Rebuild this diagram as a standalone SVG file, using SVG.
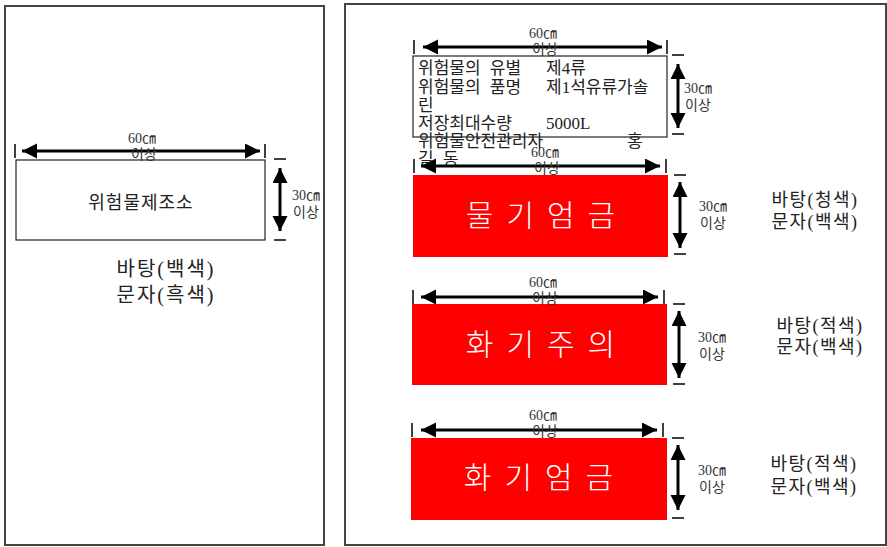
<svg xmlns="http://www.w3.org/2000/svg" width="887" height="547" viewBox="0 0 887 547">
<style>
.panel{fill:#fff;stroke:#444;stroke-width:2}
.dim{stroke:#000;stroke-width:3;fill:none;marker-start:url(#ah);marker-end:url(#ah)}
.tick{stroke:#000;stroke-width:1.5}
.t{font-family:"Liberation Serif","Noto Sans CJK KR",serif;fill:#222}
.s{font-size:14px;fill:#333}
.m{font-size:18px;letter-spacing:1px}
.l{font-size:17px;word-spacing:5px}
.w{font-size:30px;fill:#fff;letter-spacing:13px;font-weight:300}
.r{font-size:18px;letter-spacing:1.5px}
.red{fill:#ff0000}
.box{fill:#fff;stroke:#222;stroke-width:1.2}
</style>
<defs>
<marker id="ah" markerUnits="userSpaceOnUse" markerWidth="16" markerHeight="16" refX="15" refY="7.5" orient="auto-start-reverse" viewBox="0 0 16 16">
<path d="M0,0 L15,7.5 L0,15 z" fill="#000"/>
</marker>
</defs>
<rect class="panel" x="5" y="6" width="319" height="539"/>
<rect class="panel" x="345" y="4" width="541" height="541"/>

<g id="sign-left">
<rect class="box" x="16" y="160" width="249" height="80"/>
<text class="t m" x="141" y="209" text-anchor="middle">위험물제조소</text>
<text class="t" x="166" y="276" font-size="20" letter-spacing="2" text-anchor="middle">바탕(백색)</text>
<text class="t" x="166" y="302" font-size="20" letter-spacing="2" text-anchor="middle">문자(흑색)</text>
</g>

<g id="sign-info">
<rect class="box" x="413" y="56" width="254" height="81"/>
<text class="t l" x="418" y="74">위험물의 유별</text><text class="t l" x="546" y="74">제4류</text>
<text class="t l" x="418" y="93">위험물의 품명</text><text class="t l" x="546" y="93">제1석유류가솔</text>
<text class="t l" x="418" y="111">린</text>
<text class="t l" x="418" y="129">저장최대수량</text><text class="t l" x="546" y="129">5000L</text>
<text class="t l" x="418" y="147">위험물안전관리자</text><text class="t l" x="627" y="147">홍</text>
<text class="t l" x="418" y="165">길 동</text>
</g>

<g id="sign-water">
<rect class="red" x="413" y="175" width="255" height="82"/>
<text class="t w" x="547" y="226" text-anchor="middle">물기엄금</text>
<text class="t r" x="815" y="206" text-anchor="middle">바탕(청색)</text>
<text class="t r" x="815" y="228" text-anchor="middle">문자(백색)</text>
</g>

<g id="sign-fire-caution">
<rect class="red" x="412" y="304" width="255" height="81"/>
<text class="t w" x="547" y="355" text-anchor="middle">화기주의</text>
<text class="t r" x="820" y="332" text-anchor="middle">바탕(적색)</text>
<text class="t r" x="820" y="353" text-anchor="middle">문자(백색)</text>
</g>

<g id="sign-fire-ban">
<rect class="red" x="411" y="438" width="256" height="82"/>
<text class="t w" x="545" y="488" text-anchor="middle">화기엄금</text>
<text class="t r" x="814" y="470" text-anchor="middle">바탕(적색)</text>
<text class="t r" x="814" y="493" text-anchor="middle">문자(백색)</text>
</g>

<g id="connectors">
<line class="dim" x1="22" y1="151" x2="260" y2="151"/>
<line class="tick" x1="15" y1="144" x2="15" y2="158"/>
<line class="tick" x1="265" y1="144" x2="265" y2="158"/>
<line class="dim" x1="280" y1="168" x2="280" y2="231"/>
<line class="tick" x1="274" y1="159" x2="286" y2="159"/>
<line class="tick" x1="274" y1="240" x2="286" y2="240"/>
<line class="dim" x1="423" y1="47" x2="662" y2="47"/>
<line class="tick" x1="414" y1="40" x2="414" y2="54"/>
<line class="tick" x1="667" y1="40" x2="667" y2="54"/>
<line class="dim" x1="678" y1="64" x2="678" y2="128"/>
<line class="tick" x1="672" y1="55" x2="684" y2="55"/>
<line class="tick" x1="672" y1="134" x2="684" y2="134"/>
<line class="dim" x1="421" y1="166" x2="660" y2="166"/>
<line class="tick" x1="414" y1="159" x2="414" y2="173"/>
<line class="tick" x1="666" y1="159" x2="666" y2="173"/>
<line class="dim" x1="680" y1="182" x2="680" y2="248"/>
<line class="tick" x1="674" y1="175" x2="686" y2="175"/>
<line class="tick" x1="674" y1="254" x2="686" y2="254"/>
<line class="dim" x1="421" y1="297" x2="658" y2="297"/>
<line class="tick" x1="413" y1="290" x2="413" y2="304"/>
<line class="tick" x1="664" y1="290" x2="664" y2="304"/>
<line class="dim" x1="679" y1="311" x2="679" y2="378"/>
<line class="tick" x1="673" y1="304" x2="685" y2="304"/>
<line class="tick" x1="673" y1="384" x2="685" y2="384"/>
<line class="dim" x1="421" y1="430" x2="657" y2="430"/>
<line class="tick" x1="412" y1="423" x2="412" y2="437"/>
<line class="tick" x1="663" y1="423" x2="663" y2="437"/>
<line class="dim" x1="678" y1="445" x2="678" y2="510"/>
<line class="tick" x1="672" y1="438" x2="684" y2="438"/>
<line class="tick" x1="672" y1="518" x2="684" y2="518"/>
</g>

<g id="labels">
<text class="t s" x="142" y="143" text-anchor="middle">60㎝</text>
<text class="t s" x="144" y="159" text-anchor="middle">이상</text>
<text class="t s" x="306" y="200" text-anchor="middle">30㎝</text>
<text class="t s" x="306" y="217" text-anchor="middle">이상</text>
<text class="t s" x="543" y="38" text-anchor="middle">60㎝</text>
<text class="t s" x="545" y="54" text-anchor="middle">이상</text>
<text class="t s" x="698" y="93" text-anchor="middle">30㎝</text>
<text class="t s" x="698" y="110" text-anchor="middle">이상</text>
<text class="t s" x="545" y="157" text-anchor="middle">60㎝</text>
<text class="t s" x="547" y="173" text-anchor="middle">이상</text>
<text class="t s" x="713" y="211" text-anchor="middle">30㎝</text>
<text class="t s" x="713" y="228" text-anchor="middle">이상</text>
<text class="t s" x="543" y="287" text-anchor="middle">60㎝</text>
<text class="t s" x="545" y="303" text-anchor="middle">이상</text>
<text class="t s" x="712" y="342" text-anchor="middle">30㎝</text>
<text class="t s" x="712" y="359" text-anchor="middle">이상</text>
<text class="t s" x="543" y="420" text-anchor="middle">60㎝</text>
<text class="t s" x="545" y="436" text-anchor="middle">이상</text>
<text class="t s" x="712" y="475" text-anchor="middle">30㎝</text>
<text class="t s" x="712" y="492" text-anchor="middle">이상</text>
</g>
</svg>
